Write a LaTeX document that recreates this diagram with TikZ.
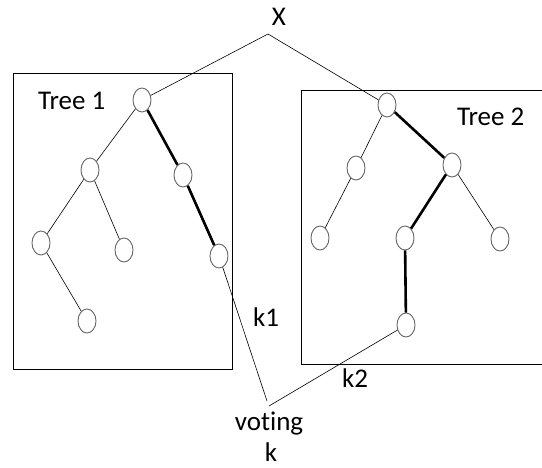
\documentclass[tikz,border=0pt]{standalone}
\usepackage{fontspec}
\setmainfont[Ligatures={NoCommon,TeX}]{Carlito}
\usetikzlibrary{shapes.geometric}
\begin{document}
\begin{tikzpicture}[x=1pt,y=-1pt,
  leaf/.style={ellipse,draw=black!60,line width=0.9pt,minimum width=18pt,minimum height=24pt,inner sep=0pt},
  thin edge/.style={line width=0.6pt},
  path edge/.style={line width=2.6pt},
  frame/.style={draw,line width=0.8pt},
  lbl/.style={font=\fontsize{27}{32}\selectfont,inner sep=0pt}]
\useasboundingbox (0,0) rectangle (542,467);

% frames around the two trees
\draw[frame] (13,73) rectangle (232,369);
\draw[frame] (301,90) rectangle (560,364);

% labels
\node[lbl] (xlab) at (279,17) {X};
\node[lbl,anchor=west] (t1) at (38,101) {Tree 1};
\node[lbl,anchor=west] (t2) at (457,117) {Tree 2};
\node[lbl] (k1) at (266,317) {k1};
\node[lbl] (k2) at (355,378) {k2};
\node[lbl] (vot) at (269,424) {voting};
\node[lbl] (k) at (271,452) {k};

% tree 1
\node[leaf] (r1) at (142,100) {};
\node[leaf] (a)  at (90,170) {};
\node[leaf] (b)  at (183,175) {};
\node[leaf] (c)  at (41,243) {};
\node[leaf] (d)  at (124,250) {};
\node[leaf] (e)  at (219,256) {};
\node[leaf] (f)  at (87,321) {};

% tree 2
\node[leaf] (r2) at (387,105) {};
\node[leaf] (g)  at (356,168) {};
\node[leaf] (h)  at (452,165) {};
\node[leaf] (i)  at (320,238) {};
\node[leaf] (j)  at (405,238) {};
\node[leaf] (l)  at (500,239) {};
\node[leaf] (m)  at (406,325) {};

% meeting points
\coordinate (top) at (268,34);
\coordinate (v1) at (267,401);
\coordinate (v2) at (269,406);

% input to both roots
\draw[thin edge] (top) -- (r1);
\draw[thin edge] (top) -- (r2);

% tree 1 edges
\draw[thin edge] (r1) -- (a);
\draw[path edge] (r1) -- (b);
\draw[thin edge] (a) -- (c);
\draw[thin edge] (a) -- (d);
\draw[path edge] (b) -- (e);
\draw[thin edge] (c) -- (f);

% tree 2 edges
\draw[thin edge] (r2) -- (g);
\draw[path edge] (r2) -- (h);
\draw[thin edge] (g) -- (i);
\draw[path edge] (h) -- (j);
\draw[thin edge] (h) -- (l);
\draw[path edge] (j) -- (m);

% outputs to the vote
\draw[thin edge] (e) -- (v1);
\draw[thin edge] (m) -- (v2);
\end{tikzpicture}
\end{document}
